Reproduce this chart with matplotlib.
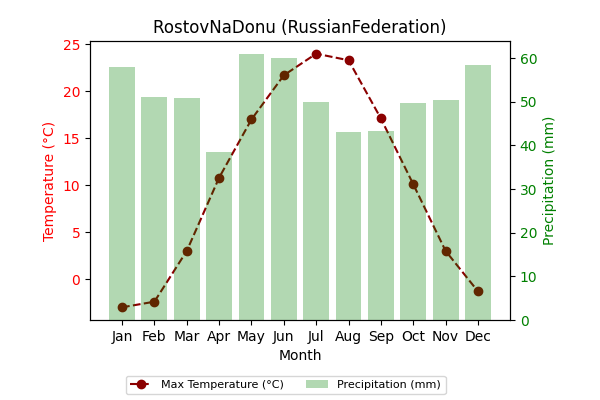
import numpy as np
import matplotlib
matplotlib.use('Agg')
import matplotlib.pyplot as plt

months = ['Jan', 'Feb', 'Mar', 'Apr', 'May', 'Jun', 'Jul', 'Aug', 'Sep', 'Oct', 'Nov', 'Dec']
max_temp = [-3.0, -2.4, 3.0, 10.8, 17.0, 21.7, 24.0, 23.3, 17.1, 10.1, 3.0, -1.3]
precip = [57.9, 51.1, 50.9, 38.4, 60.9, 60.0, 50.0, 43.2, 43.4, 49.8, 50.5, 58.5]

fig, ax1 = plt.subplots(figsize=(6, 4), dpi=100)
fig.subplots_adjust(left=0.15, right=0.85, top=0.8975, bottom=0.2)

ax1.plot(months, max_temp, color='darkred', marker='o', linestyle='--', label='Max Temperature (°C)')
ax1.set_xlabel('Month')
ax1.set_ylabel('Temperature (°C)', color='red')
ax1.tick_params(axis='y', labelcolor='red')

ax2 = ax1.twinx()
ax2.bar(months, precip, color='green', alpha=0.3, label='Precipitation (mm)')
ax2.set_ylabel('Precipitation (mm)', color='green')
ax2.tick_params(axis='y', labelcolor='green')

ax1.set_title('RostovNaDonu (RussianFederation)')

h1, l1 = ax1.get_legend_handles_labels()
h2, l2 = ax2.get_legend_handles_labels()
fig.legend(h1 + h2, l1 + l2, loc='lower center', ncol=2, fontsize=8, bbox_to_anchor=(0.476, 0.0))

plt.savefig('out.png')
